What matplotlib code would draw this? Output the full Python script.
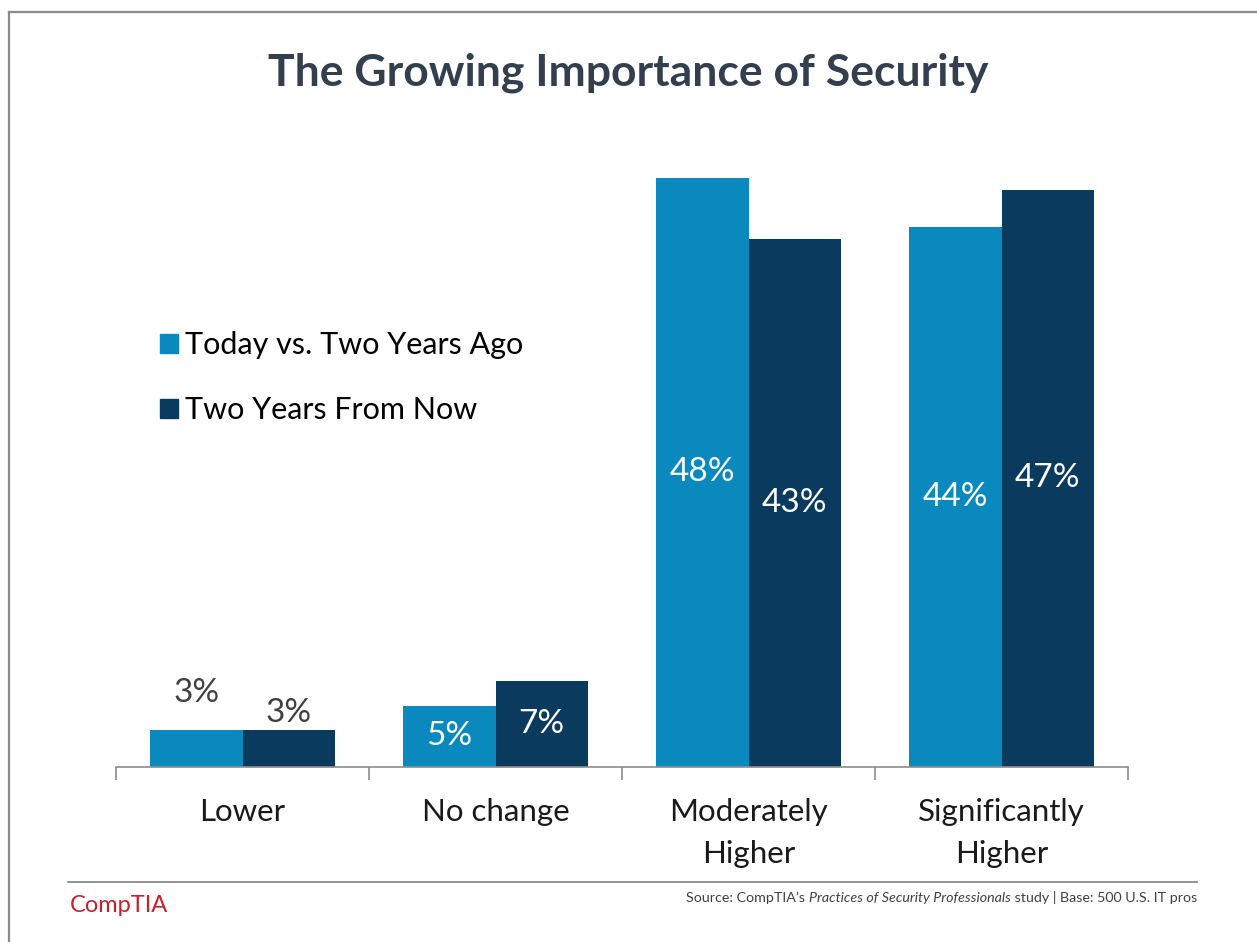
import numpy as np
import matplotlib
matplotlib.use('Agg')
import matplotlib.pyplot as plt
from matplotlib.lines import Line2D
from matplotlib.patches import Patch

# data
categories = ['Lower', 'No change', 'Moderately\nHigher', 'Significantly\nHigher']
series_names = ['Today vs. Two Years Ago', 'Two Years From Now']
today_vs_past = [3, 5, 48, 44]
two_years_out = [3, 7, 43, 47]

LIGHT = '#0a89bf'
DARK = '#0a3a5e'
FONT = 'Lato'


def security_plot():
    plt.rcParams['font.family'] = [FONT, 'DejaVu Sans']

    fig = plt.figure(figsize=(12.57, 9.42), dpi=100)
    ax = fig.add_axes([116 / 1257, 175 / 942, 1012 / 1257, 614 / 942])

    x = np.arange(len(categories))
    w = 0.364
    b1 = ax.bar(x - w / 2, today_vs_past, w, color=LIGHT)
    b2 = ax.bar(x + w / 2, two_years_out, w, color=DARK)

    ax.set_xlim(-0.5, len(categories) - 0.5)
    ax.set_ylim(0, 50)

    # value labels: small bars get labels above, the rest sit inside
    for bars, vals, lift in ((b1, today_vs_past, 3.0), (b2, two_years_out, 1.4)):
        for bar, v in zip(bars, vals):
            cx = bar.get_x() + bar.get_width() / 2
            if v <= 3:
                ax.text(cx, v + lift, f'{v}%', ha='center', va='center',
                        fontsize=24, color='#404040')
            else:
                ax.text(cx, v / 2, f'{v}%', ha='center', va='center',
                        fontsize=24, color='white')

    for s in ('left', 'right', 'top'):
        ax.spines[s].set_visible(False)
    ax.spines['bottom'].set_color('#8c8c8c')
    ax.spines['bottom'].set_linewidth(1.2)
    ax.set_yticks([])
    ax.set_xticks(np.arange(len(categories) + 1) - 0.5, minor=False)
    ax.set_xticklabels([])
    ax.tick_params(axis='x', length=9, width=1.2, color='#8c8c8c', direction='out')
    for xi, lab in zip(x, categories):
        ax.text(xi, -2.5, lab, ha='center', va='top', fontsize=22.5,
                color='#1a1a1a', linespacing=1.6)

    handles = [Patch(color=LIGHT), Patch(color=DARK)]
    fig.legend(handles, series_names, loc='upper left',
               bbox_to_anchor=(132 / 1257, 1 - 304 / 942), frameon=False,
               fontsize=22, handlelength=0.6, handleheight=0.6,
               handletextpad=0.25, labelspacing=1.2)

    fig.text(0.5, 1 - 73 / 942, 'The Growing Importance of Security',
             ha='center', va='center', fontsize=32, fontweight='bold',
             color='#333f4e')

    # frame lines and footer rule
    fig.add_artist(Line2D([9 / 1257, 9 / 1257], [0, 1 - 12 / 942],
                          color='#8a8a8a', lw=1.6))
    fig.add_artist(Line2D([9 / 1257, 1], [1 - 12 / 942, 1 - 12 / 942],
                          color='#8a8a8a', lw=1.6))
    fig.add_artist(Line2D([68 / 1257, 1197 / 1257], [1 - 882 / 942, 1 - 882 / 942],
                          color='#808080', lw=1.2))

    fig.text(70 / 1257, 1 - 906 / 942, 'CompTIA', ha='left', va='center',
             fontsize=17, color='#c8202a')

    # source line: normal / italic / normal, right aligned
    renderer = fig.canvas.get_renderer()
    y = 1 - 898 / 942
    right = 1197 / 1257
    parts = [(' study | Base: 500 U.S. IT pros', 'normal'),
             ('Practices of Security Professionals', 'italic'),
             ('Source: CompTIA\u2019s ', 'normal')]
    for txt, style in parts:
        t = fig.text(right, y, txt, ha='right', va='center', fontsize=10.3,
                     style=style, color='#404040')
        bb = t.get_window_extent(renderer)
        right -= bb.width / fig.bbox.width

    fig.savefig('out.png', dpi=100)


if __name__ == '__main__':
    security_plot()
